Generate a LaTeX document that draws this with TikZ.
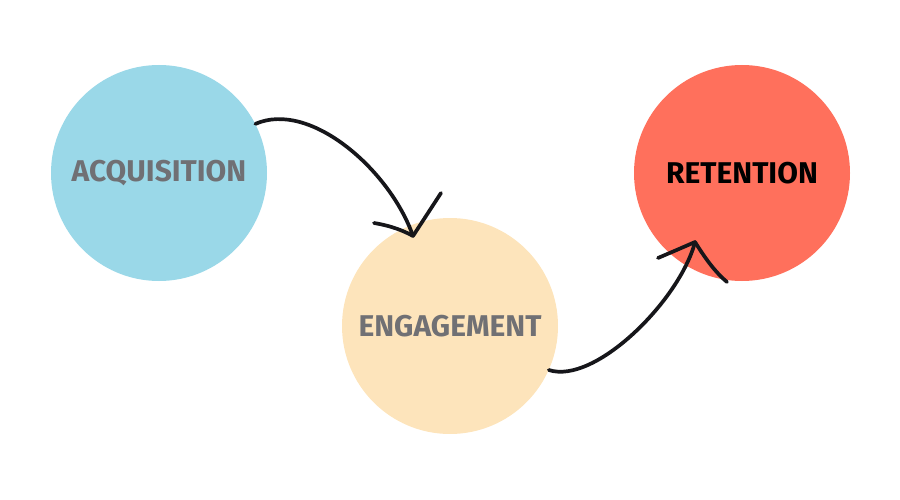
\documentclass[tikz,border=0pt]{standalone}
\usepackage{fontspec}
\setmainfont{Fira Sans}
\definecolor{cblue}{HTML}{9AD8E8}
\definecolor{cpeach}{HTML}{FDE4BB}
\definecolor{cred}{HTML}{FF705C}
\definecolor{cgrey}{HTML}{707074}
\definecolor{cink}{HTML}{16161A}
\begin{document}
\begin{tikzpicture}[x=1pt,y=-1pt,
  blob/.style={circle,minimum size=216pt,inner sep=0pt,font=\fontsize{30}{30}\selectfont\bfseries},
  ink/.style={draw=cink,line width=3.7pt,line cap=round,line join=round}]
\useasboundingbox (0,0) rectangle (900,500);
\node[blob,fill=cblue,text=cgrey] (acq) at (159,173) {ACQUISITION};
\node[blob,fill=cpeach,text=cgrey] (eng) at (450,326) {ENGAGEMENT};
\node[blob,fill=cred,text=black] (ret) at (742,173) {RETENTION};
\coordinate (t1) at (413,236);
\coordinate (t2) at (695,242);
\coordinate (l1) at (374,223);
\coordinate (r1) at (441,193);
\coordinate (l2) at (658,258);
\coordinate (r2) at (727,282);
\draw[ink] (acq.27) .. controls (310,100) and (390,170) .. (t1);
\draw[ink] (l1) .. controls (392,226) and (404,231) .. (t1) -- (r1);
\draw[ink] (eng.-24) .. controls (595,385) and (680,300) .. (t2);
\draw[ink] (l2) .. controls (672,252) and (686,246) .. (t2) .. controls (705,258) and (715,272) .. (r2);
\end{tikzpicture}
\end{document}
